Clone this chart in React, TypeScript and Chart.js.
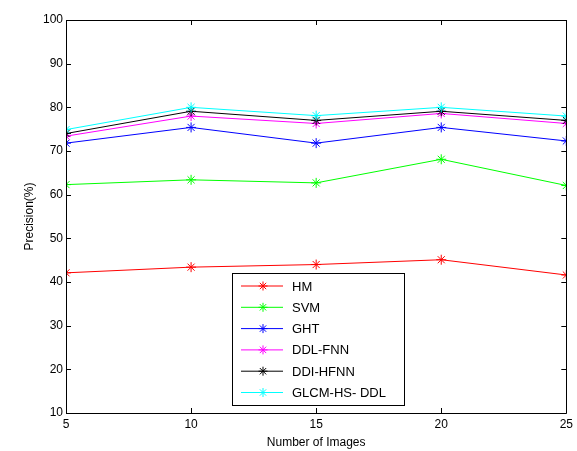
import React, { useEffect, useRef } from "react";
import { Chart, registerables } from "chart.js";
Chart.register(...registerables);

const imageCounts = [5, 10, 15, 20, 25];
const seriesNames = ["HM", "SVM", "GHT", "DDL-FNN", "DDI-HFNN", "GLCM-HS- DDL"];
const hm = [42.1, 43.4, 44.0, 45.1, 41.6];
const svm = [62.3, 63.4, 62.7, 68.1, 62.1];
const ght = [71.8, 75.4, 71.8, 75.4, 72.3];
const ddlFnn = [73.4, 78.0, 76.3, 78.6, 76.3];
const ddiHfnn = [74.0, 79.1, 77.0, 79.1, 77.0];
const glcm = [74.9, 80.0, 78.1, 80.0, 78.0];
const colors = ["#ff0000", "#00ff00", "#0000ff", "#ff00ff", "#000000", "#00ffff"];
const yTicks = [10, 20, 30, 40, 50, 60, 70, 80, 90, 100];
const xTicks = [5, 10, 15, 20, 25];

const FONT = "'Liberation Sans', Arial, sans-serif";

const boxPlugin = {
  id: "matlabBox",
  afterDatasetsDraw(chart: any) {
    const ctx = chart.ctx;
    const { left, right, top, bottom } = chart.chartArea;
    const xs = chart.scales.x;
    const ys = chart.scales.y;
    ctx.save();
    ctx.strokeStyle = "#000";
    ctx.lineWidth = 1;
    ctx.beginPath();
    ctx.rect(Math.round(left) + 0.5, Math.round(top) + 0.5, Math.round(right - left), Math.round(bottom - top));
    ctx.stroke();
    const t = 5;
    ctx.beginPath();
    for (const v of yTicks) {
      const p = Math.round(ys.getPixelForValue(v)) + 0.5;
      ctx.moveTo(left, p);
      ctx.lineTo(left + t, p);
      ctx.moveTo(right, p);
      ctx.lineTo(right - t, p);
    }
    for (const v of xTicks) {
      const p = Math.round(xs.getPixelForValue(v)) + 0.5;
      ctx.moveTo(p, bottom);
      ctx.lineTo(p, bottom - t);
      ctx.moveTo(p, top);
      ctx.lineTo(p, top + t);
    }
    ctx.stroke();

    // legend box
    const lx = 232.5, ly = 273.5, lw = 172, lh = 132;
    ctx.fillStyle = "#fff";
    ctx.fillRect(lx, ly, lw, lh);
    ctx.strokeStyle = "#000";
    ctx.strokeRect(lx, ly, lw, lh);
    ctx.font = `13px ${FONT}`;
    ctx.textBaseline = "middle";
    ctx.textAlign = "left";
    chart.data.datasets.forEach((ds: any, i: number) => {
      const y = 286 + i * 21.3;
      ctx.strokeStyle = ds.borderColor;
      ctx.lineWidth = 1;
      ctx.beginPath();
      ctx.moveTo(241, y);
      ctx.lineTo(283, y);
      ctx.stroke();
      const cx = 263, r = 4.5;
      ctx.beginPath();
      ctx.moveTo(cx - r, y); ctx.lineTo(cx + r, y);
      ctx.moveTo(cx, y - r); ctx.lineTo(cx, y + r);
      const d = r * 0.7071;
      ctx.moveTo(cx - d, y - d); ctx.lineTo(cx + d, y + d);
      ctx.moveTo(cx - d, y + d); ctx.lineTo(cx + d, y - d);
      ctx.stroke();
      ctx.fillStyle = "#000";
      ctx.fillText(ds.label, 292, y + 1);
    });
    ctx.restore();
  },
};

export default function App() {
  const ref = useRef<HTMLCanvasElement>(null);
  useEffect(() => {
    if (!ref.current) return;
    const all = [hm, svm, ght, ddlFnn, ddiHfnn, glcm];
    const chart = new Chart(ref.current, {
      type: "line",
      data: {
        datasets: all.map((vals, i) => ({
          label: seriesNames[i],
          data: vals.map((v, j) => ({ x: imageCounts[j], y: v })),
          borderColor: colors[i],
          backgroundColor: colors[i],
          borderWidth: 1,
          pointStyle: "star",
          pointRadius: 5,
          pointBorderWidth: 1,
          pointBorderColor: colors[i],
          fill: false,
          tension: 0,
          order: 10 - i,
        })),
      },
      options: {
        animation: false,
        responsive: true,
        maintainAspectRatio: false,
        layout: { padding: { top: 20, right: 9, left: 0, bottom: 0 } },
        plugins: { legend: { display: false }, tooltip: { enabled: false } },
        scales: {
          x: {
            type: "linear",
            min: 5,
            max: 25,
            afterFit: (s: any) => { s.height = 38; },
            afterBuildTicks: (s: any) => { s.ticks = xTicks.map((v) => ({ value: v })); },
            grid: { display: false, drawTicks: false },
            border: { display: false },
            ticks: { color: "#000", padding: 4, font: { family: FONT, size: 12 }, maxRotation: 0 },
            title: { display: true, text: "Number of Images", color: "#000", font: { family: FONT, size: 12 }, padding: { top: 0, bottom: 1 } },
          },
          y: {
            min: 10,
            max: 100,
            afterFit: (s: any) => { s.width = 66; },
            afterBuildTicks: (s: any) => { s.ticks = yTicks.map((v) => ({ value: v })); },
            grid: { display: false, drawTicks: false },
            border: { display: false },
            ticks: { color: "#000", padding: 3, font: { family: FONT, size: 12 } },
            title: { display: true, text: "Precision(%)", color: "#000", font: { family: FONT, size: 12 }, padding: { top: 22, bottom: 0 } },
          },
        },
      },
      plugins: [boxPlugin],
    } as any);
    return () => chart.destroy();
  }, []);
  return (
    <div style={{ position: "absolute", left: 0, top: 0, width: 577, height: 451, background: "#fff" }}>
      <canvas ref={ref} />
    </div>
  );
}
